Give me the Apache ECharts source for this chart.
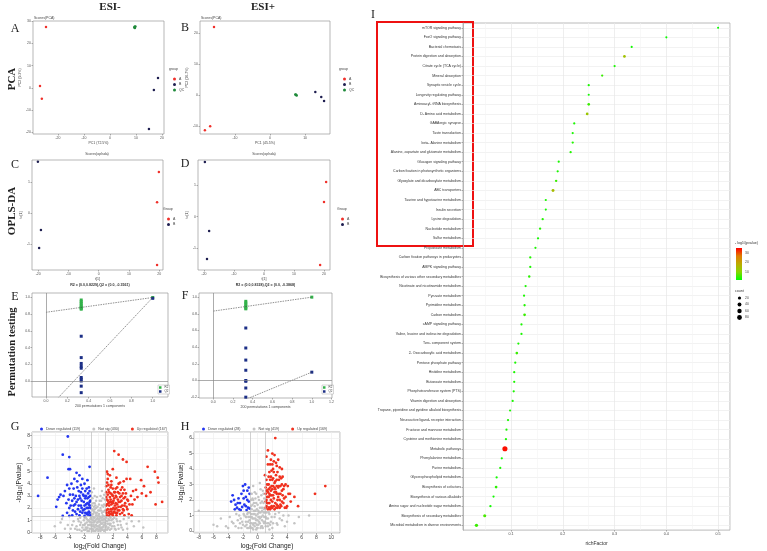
<!DOCTYPE html>
<html><head><meta charset="utf-8">
<script src="https://cdn.jsdelivr.net/npm/echarts@6/dist/echarts.min.js"></script>
<style>html,body{margin:0;padding:0;background:#fff}#c{width:767px;height:551px}</style>
</head><body><div id="c"></div>
<script>
// ================= DATA =================
// A: ESI- PCA scores
const pcaNegGroupA = [[-24.6,27.4],[-26.9,0.9],[-26.2,-4.9]];
const pcaNegGroupB = [[18.5,4.5],[16.9,-0.9],[15.0,-18.4]];
const pcaNegQC = [[9.6,27.4],[9.4,27.2],[9.8,27.6],[9.6,27.0],[9.5,27.5]];
// B: ESI+ PCA scores
const pcaPosGroupA = [[-16.0,21.9],[-18.6,-11.3],[-17.1,-10.0]];
const pcaPosGroupB = [[12.9,1.0],[14.6,-0.6],[15.4,-1.9]];
const pcaPosQC = [[7.4,0.0],[7.2,0.2],[7.6,-0.1],[7.4,0.1]];
// C / D: OPLS-DA scores
const oplsNegA = [[19.9,1.32],[19.3,0.35],[19.3,-1.68]];
const oplsNegB = [[-20.1,1.65],[-19.1,-0.55],[-19.7,-1.13]];
const oplsPosA = [[20.7,1.1],[20.0,0.47],[18.7,-1.53]];
const oplsPosB = [[-19.7,1.74],[-18.3,-0.45],[-19.0,-1.34]];
// E / F: permutation tests
const permNegR2 = [[0.33,0.97],[0.33,0.95],[0.33,0.93],[0.33,0.91],[0.33,0.89],[0.33,0.88],[0.33,0.87],[0.33,0.86],[1.0,1.0]];
const permNegQ2 = [[0.33,0.536],[0.33,0.28],[0.33,0.21],[0.33,0.177],[0.33,0.153],[0.33,0.042],[0.33,0.022],[0.33,0.0],[0.33,-0.062],[0.33,-0.14],[1.0,0.99]];
const permNegLines = {r2:[0.8229,1.0], q2:[-0.3561,1.0]};
const permPosR2 = [[0.33,0.95],[0.33,0.93],[0.33,0.91],[0.33,0.89],[0.33,0.87],[0.33,0.86],[1.0,1.0]];
const permPosQ2 = [[0.33,0.63],[0.33,0.39],[0.33,0.245],[0.33,0.123],[0.33,0.0],[0.33,-0.01],[0.33,-0.09],[0.33,-0.2],[1.0,0.10]];
const permPosLines = {r2:[0.8328,1.0], q2:[-0.3868,0.10]};
// G: ESI- volcano
const volNegDown = [[-8.3,3.0],[-7.0,4.5],[-5.8,2.1],[-5.4,2.9],[-5.2,3.1],[-4.9,6.4],[-4.2,7.9],[-4.0,6.2],[-4.1,5.2],[-3.9,5.2],[-4.6,3.4],[-4.3,3.9],[-4.0,3.6],[-3.7,4.0],[-3.5,3.1],[-3.3,4.4],[-3.0,4.9],[-2.9,4.2],[-2.6,4.7],[-2.4,3.9],[-2.2,4.4],[-1.9,4.0],[-1.5,4.3],[-1.2,5.4],[-1.3,3.7],[-4.9,1.35],[-4.0,1.35],[-3.6,1.4],[-4.4,2.4],[-4.0,2.0],[-3.6,2.6],[-3.4,2.2],[-3.1,3.0],[-3.0,2.5],[-2.8,1.9],[-2.7,3.4],[-2.5,2.8],[-2.4,2.2],[-2.2,1.6],[-2.1,3.1],[-2.0,2.5],[-1.9,1.9],[-1.8,3.4],[-1.7,2.3],[-1.6,1.5],[-1.5,2.8],[-1.4,2.0],[-1.3,1.7],[-1.2,2.5],[-1.1,3.0],[-1.1,1.4],[-1.6,3.6],[-2.6,1.4],[-3.2,1.7],[-1.9,1.35],[-1.4,1.45],[-2.3,2.0],[-1.2,2.2],
  [-4.3,1.6],[-4.1,2.7],[-3.9,3.1],[-3.8,2.2],[-3.5,1.8],[-3.4,3.6],[-3.3,2.8],[-3.2,2.3],[-3.0,1.5],[-2.9,3.7],[-2.8,2.7],[-2.7,2.2],[-2.6,3.0],[-2.5,1.7],[-2.4,3.3],[-2.3,2.6],[-2.2,3.6],[-2.1,1.8],[-2.0,3.0],[-1.9,2.2],[-1.8,2.8],[-1.8,1.6],[-1.7,3.0],[-1.6,2.0],[-1.5,2.4],[-1.5,1.6],[-1.4,3.2],[-1.3,2.3],[-1.3,2.9],[-1.2,1.6],[-1.2,3.4],[-1.1,2.0],[-1.1,2.6],[-4.8,3.0],[-5.6,2.7]];
const volNegUp = [[2.2,6.7],[2.8,6.4],[3.4,6.0],[3.9,5.8],[6.8,5.4],[7.8,5.0],[8.2,4.5],[8.3,4.1],[8.8,2.5],[7.9,2.3],[7.2,3.3],[6.6,3.0],[6.3,3.8],[5.9,4.3],[5.2,3.5],[5.4,2.9],[4.4,4.4],[3.9,4.4],[4.7,2.3],[5.0,2.7],[6.0,3.2],[1.2,5.0],[1.6,4.7],[2.0,5.2],[1.3,4.4],[1.8,4.2],[2.5,4.5],[3.0,4.1],[3.3,3.7],[3.6,3.5],[1.1,3.8],[1.4,3.5],[1.7,3.2],[2.0,3.6],[2.3,3.3],[2.6,3.7],[2.9,3.2],[3.2,3.0],[3.5,2.8],[3.8,3.2],[4.1,2.6],[1.1,2.9],[1.3,2.6],[1.5,2.2],[1.6,2.9],[1.9,2.5],[2.1,2.0],[2.2,2.8],[2.4,2.4],[2.7,2.7],[2.8,2.1],[3.0,2.5],[3.3,2.2],[3.5,1.8],[3.7,2.4],[4.0,1.9],[1.1,1.8],[1.2,2.3],[1.4,1.6],[1.7,1.9],[1.9,1.5],[2.2,1.7],[2.5,1.4],[2.7,1.8],[3.0,1.5],[3.3,1.6],[3.6,1.4],[4.2,1.5],[1.2,1.4],[1.5,1.35],[2.0,1.4],[4.6,1.4],[2.4,3.0],[1.8,3.9],[3.1,3.5],
  [1.1,1.6],[1.1,2.2],[1.1,3.3],[1.2,2.7],[1.2,4.1],[1.3,1.9],[1.3,3.1],[1.4,2.4],[1.4,3.9],[1.5,1.7],[1.5,3.3],[1.6,2.5],[1.6,1.5],[1.7,2.7],[1.7,3.7],[1.8,1.7],[1.8,2.3],[1.9,3.1],[1.9,1.9],[2.0,2.4],[2.0,3.0],[2.1,1.6],[2.1,2.6],[2.2,3.3],[2.3,1.9],[2.3,2.2],[2.4,1.6],[2.4,3.6],[2.5,2.0],[2.5,2.9],[2.6,2.3],[2.6,1.6],[2.7,3.3],[2.8,2.5],[2.9,1.8],[3.0,2.9],[3.1,2.1],[3.2,2.6],[3.4,1.9],[3.4,3.2],[3.6,2.2],[3.7,2.9],[3.9,2.1],[4.0,2.7],[4.3,2.3],[4.5,3.0],[1.3,4.8],[2.8,4.0],[3.5,4.2],[4.8,3.4]];
const volNegNs = [[-6.0,0.5],[-5.2,0.8],[-4.2,0.6],[-3.8,0.3],[-3.4,0.9],[-3.0,0.5],[-2.8,1.1],[-2.6,0.2],[-2.4,0.8],[-2.2,0.4],[-2.0,1.0],[-1.9,0.6],[-1.8,0.2],[-1.7,1.2],[-1.6,0.8],[-1.5,0.4],[-1.4,1.0],[-1.3,0.1],[-1.2,0.6],[-1.1,1.1],[-1.0,0.3],[-0.9,2.2],[-0.9,1.5],[-0.8,0.8],[-0.8,2.8],[-0.7,0.2],[-0.7,1.8],[-0.6,1.2],[-0.6,0.5],[-0.5,2.4],[-0.5,0.9],[-0.4,0.1],[-0.4,1.6],[-0.3,0.6],[-0.3,2.0],[-0.2,1.1],[-0.2,0.3],[-0.1,0.8],[0.0,0.1],[0.0,1.4],[0.1,0.5],[0.1,2.3],[0.2,0.9],[0.2,1.8],[0.3,0.3],[0.3,1.2],[0.4,0.7],[0.4,2.6],[0.5,0.2],[0.5,1.6],[0.6,1.0],[0.6,0.4],[0.7,2.1],[0.7,1.3],[0.8,0.6],[0.8,3.1],[0.9,1.8],[0.9,0.2],[1.0,1.0],[1.1,0.5],[1.2,0.9],[1.3,0.3],[1.4,1.1],[1.5,0.7],[1.6,0.2],[1.8,1.0],[1.9,0.5],[2.1,0.8],[2.3,0.3],[2.5,1.1],[2.7,0.6],[3.0,0.9],[3.2,0.4],[3.5,1.1],[3.9,0.7],[4.2,1.2],[4.6,0.9],[4.9,0.5],[5.6,0.9],[6.2,0.4],[-0.9,3.3],[-0.6,3.6],[0.5,3.4],[-0.2,2.9],[0.3,3.0],[-2.5,0.6],[-1.6,0.3],[1.7,0.7],[2.2,1.2],[-1.2,0.9],
  [-2.9,0.2],[-2.7,0.9],[-2.5,1.2],[-2.3,0.1],[-2.1,0.6],[-2.0,0.2],[-1.9,1.2],[-1.8,0.7],[-1.7,0.4],[-1.6,1.1],[-1.5,0.1],[-1.4,0.6],[-1.3,0.9],[-1.2,0.3],[-1.1,0.8],[-1.0,1.2],[-1.0,0.6],[-0.9,0.1],[-0.9,0.5],[-0.9,1.1],[-0.8,0.3],[-0.8,1.3],[-0.8,1.9],[-0.7,0.6],[-0.7,1.0],[-0.7,1.5],[-0.7,2.4],[-0.6,0.1],[-0.6,0.8],[-0.6,1.7],[-0.6,2.1],[-0.5,0.4],[-0.5,1.2],[-0.5,1.9],[-0.5,3.0],[-0.4,0.6],[-0.4,1.0],[-0.4,2.2],[-0.3,0.2],[-0.3,1.4],[-0.3,2.6],[-0.2,0.5],[-0.2,0.8],[-0.2,1.6],[-0.1,0.3],[-0.1,1.2],[-0.1,2.1],[0.0,0.5],[0.0,0.9],[0.0,1.8],[0.1,0.2],[0.1,1.1],[0.1,1.5],[0.2,0.4],[0.2,0.6],[0.2,1.3],[0.2,2.6],[0.3,0.1],[0.3,0.8],[0.3,2.0],[0.4,0.4],[0.4,1.0],[0.4,1.8],[0.5,0.7],[0.5,1.2],[0.5,2.2],[0.6,0.2],[0.6,1.4],[0.6,2.8],[0.7,0.5],[0.7,0.8],[0.7,1.7],[0.8,0.1],[0.8,1.1],[0.8,2.3],[0.9,0.8],[0.9,1.3],[0.9,2.7],[1.0,0.4],[1.0,0.7],[1.1,1.2],[1.2,0.2],[1.3,0.7],[1.4,0.4],[1.5,1.0],[1.6,0.6],[1.7,1.2],[1.8,0.3],[2.0,1.1],[2.2,0.5],[2.4,0.2],[2.6,0.9],[2.8,0.3],[3.1,0.6],[3.4,0.2],[-3.2,0.3],[-3.6,0.6],[-4.6,0.3],[-5.0,1.1],[4.0,0.3]];
// H: ESI+ volcano
const volPosDown = [[-3.4,2.3],[-3.2,2.0],[-3.0,1.7],[-2.8,1.5],[-3.1,1.4],[-2.6,2.1],[-2.4,1.8],[-2.5,1.4],[-2.0,2.9],[-1.7,3.0],[-1.9,2.6],[-2.2,2.4],[-1.6,2.2],[-1.4,2.0],[-1.8,1.7],[-1.3,1.5],[-1.2,1.9],[-1.5,1.35],[-2.1,1.55],[-1.1,2.4],[-1.2,2.8],[-3.6,1.9],[-2.7,1.8],[-1.6,1.6],[-1.9,2.1],[-2.3,1.35],[-1.1,1.45],[-1.4,2.6]];
const volPosUp = [[1.1,1.5],[1.2,2.0],[1.3,2.6],[1.4,1.4],[1.5,3.0],[1.6,1.8],[1.7,2.3],[1.8,3.5],[1.9,1.6],[2.0,2.7],[2.1,4.0],[2.2,2.1],[2.3,1.4],[2.4,3.2],[2.5,2.5],[2.6,1.7],[2.7,3.8],[2.8,2.2],[2.9,2.9],[3.0,1.5],[3.1,2.4],[3.2,3.4],[3.3,1.9],[3.5,2.7],[3.6,2.1],[3.8,3.0],[4.0,1.6],[4.2,2.4],[1.2,3.3],[1.4,4.3],[1.6,3.8],[1.8,4.6],[2.0,5.0],[2.4,6.0],[2.2,4.5],[2.6,4.2],[3.0,4.1],[1.1,2.8],[1.3,1.8],[1.5,2.2],[1.7,1.4],[1.9,2.9],[2.1,3.4],[2.3,2.8],[2.5,3.6],[2.7,1.5],[2.9,3.3],[3.1,1.7],[3.4,2.3],[3.7,1.5],[4.5,1.9],[7.8,2.4],[9.2,2.9],[1.0,3.6],[1.2,4.8],[1.5,1.5],[2.0,1.9],[2.6,2.9],[3.3,3.0],[1.8,2.0],
  [1.1,1.9],[1.1,2.4],[1.2,1.6],[1.2,2.6],[1.3,2.2],[1.3,3.0],[1.4,1.8],[1.4,2.5],[1.5,2.7],[1.5,3.5],[1.6,1.5],[1.6,2.4],[1.7,2.8],[1.7,3.3],[1.8,1.5],[1.8,2.6],[1.9,2.3],[1.9,3.9],[2.0,1.5],[2.0,3.3],[2.1,2.3],[2.1,2.9],[2.2,1.6],[2.2,3.8],[2.3,2.5],[2.3,3.1],[2.4,1.8],[2.4,2.7],[2.5,1.5],[2.5,4.4],[2.6,2.4],[2.6,3.3],[2.7,2.0],[2.8,2.8],[2.8,1.6],[2.9,2.4],[3.0,3.5],[3.0,2.0],[3.1,2.9],[3.2,1.6],[3.3,2.6],[3.4,3.5],[3.5,1.8],[3.6,2.9],[3.8,2.2],[3.9,1.5],[4.1,2.9],[4.4,2.4],[1.4,5.2],[1.7,4.3],[2.0,4.3],[2.3,4.9],[2.8,4.6],[3.3,4.0],[5.0,2.2],[5.5,1.6]];
const volPosNs = [[-8.0,1.3],[-6.0,0.4],[-5.0,0.8],[-4.3,0.3],[-3.8,0.9],[-3.3,0.5],[-2.9,1.1],[-2.6,0.2],[-2.3,0.8],[-2.0,0.4],[-1.8,1.0],[-1.6,0.6],[-1.4,0.2],[-1.3,1.2],[-1.1,0.7],[-1.0,0.3],[-0.9,1.6],[-0.8,0.9],[-0.7,2.1],[-0.6,0.4],[-0.5,1.3],[-0.4,2.5],[-0.3,0.8],[-0.2,1.8],[-0.1,0.2],[0.0,1.1],[0.1,2.2],[0.2,0.6],[0.3,1.5],[0.4,2.7],[0.5,0.3],[0.6,1.9],[0.7,1.0],[0.8,2.4],[0.9,0.5],[1.0,1.2],[1.2,0.8],[1.4,0.3],[1.6,1.1],[1.8,0.6],[2.0,0.2],[2.3,0.9],[2.6,0.5],[2.9,1.2],[3.3,0.7],[3.7,0.3],[4.2,1.0],[5.0,0.5],[5.6,0.9],[7.0,1.0],[-0.6,2.9],[0.3,3.1],[-0.2,0.1],[0.1,0.9],[-1.5,0.9],[1.5,0.5],
  [-3.0,0.3],[-2.7,0.7],[-2.5,1.0],[-2.2,0.2],[-2.1,0.6],[-1.9,1.1],[-1.7,0.3],[-1.6,0.9],[-1.5,0.4],[-1.4,1.1],[-1.3,0.6],[-1.2,0.2],[-1.2,0.9],[-1.1,1.2],[-1.0,0.5],[-1.0,0.9],[-0.9,0.2],[-0.9,1.1],[-0.9,2.0],[-0.8,0.5],[-0.8,1.4],[-0.8,2.4],[-0.7,0.2],[-0.7,0.8],[-0.7,1.7],[-0.6,1.1],[-0.6,2.0],[-0.5,0.5],[-0.5,0.8],[-0.5,1.8],[-0.4,0.3],[-0.4,1.1],[-0.4,1.6],[-0.3,0.5],[-0.3,1.3],[-0.3,2.1],[-0.2,0.7],[-0.2,1.0],[-0.2,2.4],[-0.1,0.4],[-0.1,1.4],[0.0,0.2],[0.0,0.7],[0.0,1.7],[0.1,0.4],[0.1,1.3],[0.2,0.9],[0.2,1.2],[0.2,2.0],[0.3,0.5],[0.3,0.8],[0.4,0.2],[0.4,1.2],[0.4,1.8],[0.5,0.9],[0.5,1.5],[0.5,2.3],[0.6,0.3],[0.6,0.7],[0.6,1.3],[0.7,0.2],[0.7,1.5],[0.7,2.6],[0.8,0.6],[0.8,1.2],[0.8,1.8],[0.9,0.9],[0.9,1.4],[0.9,2.1],[1.0,0.6],[1.1,0.3],[1.1,0.9],[1.2,1.2],[1.3,0.5],[1.4,0.8],[1.5,1.2],[1.7,0.4],[1.9,0.9],[2.1,0.5],[2.4,1.1],[2.7,0.4],[3.0,0.8],[3.5,1.0],[4.0,0.6],[-3.5,0.6],[-4.0,0.2],[-5.5,0.3],[-2.4,0.5],[1.6,0.1],[-0.6,0.1]];
// I: KEGG enrichment
const pathways = ["mTOR signaling pathway","FoxO signaling pathway","Bacterial chemotaxis","Protein digestion and absorption","Citrate cycle (TCA cycle)","Mineral absorption","Synaptic vesicle cycle","Longevity regulating pathway","Aminoacyl- tRNA biosynthesis","D- Amino acid metabolism","GABAergic synapse","Taste transduction","beta- Alanine metabolism","Alanine, aspartate and glutamate metabolism","Glucagon signaling pathway","Carbon fixation in photosynthetic organisms","Glyoxylate and dicarboxylate metabolism","ABC transporters","Taurine and hypotaurine metabolism","Insulin secretion","Lysine degradation","Nucleotide metabolism","Sulfur metabolism","Propanoate metabolism","Carbon fixation pathways in prokaryotes","AMPK signaling pathway","Biosynthesis of various other secondary metabolites","Nicotinate and nicotinamide metabolism","Pyruvate metabolism","Pyrimidine metabolism","Carbon metabolism","cAMP signaling pathway","Valine, leucine and isoleucine degradation","Two- component system","2- Oxocarboxylic acid metabolism","Pentose phosphate pathway","Histidine metabolism","Butanoate metabolism","Phosphotransferase system (PTS)","Vitamin digestion and absorption","Tropane, piperidine and pyridine alkaloid biosynthesis","Neuroactive ligand- receptor interaction","Fructose and mannose metabolism","Cysteine and methionine metabolism","Metabolic pathways","Phenylalanine metabolism","Purine metabolism","Glycerophospholipid metabolism","Biosynthesis of cofactors","Biosynthesis of various alkaloids","Amino sugar and nucleotide sugar metabolism","Biosynthesis of secondary metabolites","Microbial metabolism in diverse environments"];
const richFactor = [0.5,0.4,0.333,0.319,0.3,0.276,0.25,0.25,0.25,0.247,0.222,0.219,0.219,0.215,0.192,0.19,0.187,0.181,0.167,0.167,0.161,0.156,0.152,0.147,0.137,0.137,0.135,0.128,0.125,0.126,0.126,0.12,0.12,0.114,0.111,0.108,0.106,0.106,0.105,0.103,0.098,0.094,0.091,0.09,0.088,0.082,0.079,0.072,0.071,0.066,0.06,0.049,0.033];
const negLog10P = [2,2,2.5,14,3,5,3,2.5,5,13,3,3,3.5,3.5,3,3,5,15,3,2.5,3.5,3.5,2.5,3,3.5,3,4,3,3,3.5,5,3,3,3,5,3,3,3,3,3,3,3,3,3,34,2.5,3,2.5,4,2.5,2.5,6,5];
const pathwayCount = [2,2,2,10,3,4,3,2,8,10,3,3,4,4,3,3,5,14,3,2,4,4,3,3,4,3,5,3,3,4,9,3,3,3,8,3,3,3,3,3,3,3,3,3,95,3,3,3,9,3,4,18,22];
const pvalueTicks = [10,20,30];
const countTicks = [20,40,60,80];

// ================= BUILD =================
const SANS = 'Liberation Sans, Arial, sans-serif';
const SERIF = 'Liberation Serif, Times New Roman, serif';
const opt = {animation:false, textStyle:{fontFamily:SANS}, grid:[], xAxis:[], yAxis:[], series:[], legend:[], graphic:[], visualMap:[]};

function addGrid(box, xa, ya){
  const i = opt.grid.length;
  opt.grid.push(Object.assign({show:true, borderColor:'#9a9a9a', borderWidth:0.7, backgroundColor:'#fff'}, box));
  opt.xAxis.push(Object.assign({gridIndex:i}, xa));
  opt.yAxis.push(Object.assign({gridIndex:i}, ya));
  return i;
}
function vAxis(min, max, split, extra){
  return Object.assign({type:'value', min:min, max:max, splitNumber:split,
    axisLine:{show:false, onZero:false}, axisTick:{show:true, length:1.5, lineStyle:{color:'#666', width:0.5}},
    axisLabel:{fontSize:3.5, color:'#555', margin:2, showMinLabel:false, showMaxLabel:false},
    splitLine:{show:false}, nameTextStyle:{fontSize:3.5, color:'#444'}}, extra||{});
}
function scat(gi, name, data, color, size, extra){
  opt.series.push(Object.assign({type:'scatter', name:name, xAxisIndex:gi, yAxisIndex:gi, data:data,
    symbolSize:size, itemStyle:{color:color, opacity:1}, silent:true}, extra||{}));
}
function txt(x, y, text, style, rot){
  const el = {type:'text', x:x, y:y, silent:true, style:Object.assign({text:text, fill:'#222', fontSize:4, fontFamily:SANS, align:'left', verticalAlign:'middle'}, style)};
  if (rot) el.rotation = rot;
  opt.graphic.push(el);
}
const RED='#f0302a', NAVY='#1e1e50', QCG='#1f8a3a';

// ---------- headers ----------
txt(110, 7, 'ESI-', {fontSize:11, fontWeight:'bold', fontFamily:SERIF, align:'center'});
txt(263, 7, 'ESI+', {fontSize:11, fontWeight:'bold', fontFamily:SERIF, align:'center'});
txt(12, 79, 'PCA', {fontSize:11, fontWeight:'bold', fontFamily:SERIF, align:'center'}, Math.PI/2);
txt(12, 211, 'OPLS-DA', {fontSize:11, fontWeight:'bold', fontFamily:SERIF, align:'center'}, Math.PI/2);
txt(12, 352, 'Permutation testing', {fontSize:10.5, fontWeight:'bold', fontFamily:SERIF, align:'center'}, Math.PI/2);
[['A',15,29],['B',185,28],['C',15,165],['D',185,164],['E',15,297],['F',185,296],['G',15,427],['H',185,427],['I',373,15]].forEach(l=>{
  txt(l[1], l[2], l[0], {fontSize:12, fontFamily:SERIF, align:'center'});
});

// ---------- A ----------
let g = addGrid({left:33, top:21, width:131, height:113},
  vAxis(-29.6, 20.8, 5, {name:'PC1 (72.5%)', nameLocation:'middle', nameGap:7}),
  vAxis(-20.7, 30.1, 5, {name:'PC2 (9.3%)', nameLocation:'middle', nameGap:8}));
scat(g,'A',pcaNegGroupA,RED,2.5); scat(g,'B',pcaNegGroupB,NAVY,2.5); scat(g,'QC',pcaNegQC,QCG,2.5);
txt(34, 18, 'Scores(PCA)', {fontSize:3.5, fill:'#444'});
// ---------- B ----------
g = addGrid({left:200, top:21, width:130, height:113},
  vAxis(-20, 17.1, 4, {name:'PC1 (45.5%)', nameLocation:'middle', nameGap:7}),
  vAxis(-12.5, 23.8, 4, {name:'PC2 (26.7%)', nameLocation:'middle', nameGap:8}));
scat(g,'A',pcaPosGroupA,RED,2.5); scat(g,'B',pcaPosGroupB,NAVY,2.5); scat(g,'QC',pcaPosQC,QCG,2.5);
txt(201, 18, 'Scores(PCA)', {fontSize:3.5, fill:'#444'});
[[169,'group'],[339,'group']].forEach(p=>txt(p[0], 69, p[1], {fontSize:3.5, fill:'#444'}));
[168,338].forEach(x=>opt.legend.push({left:x, top:72, orient:'vertical', itemWidth:3, itemHeight:3, itemGap:1.5, icon:'circle', data:['A','B','QC'], textStyle:{fontSize:3.5, color:'#444', padding:[0,0,0,-2]}, selectedMode:false}));

// ---------- C ----------
g = addGrid({left:32, top:160, width:131, height:110},
  vAxis(-22.05, 21.26, 4, {name:'t[1]', nameLocation:'middle', nameGap:7}),
  vAxis(-1.84, 1.71, 3, {name:'to[1]', nameLocation:'middle', nameGap:8}));
scat(g,'A',oplsNegA,RED,2.5); scat(g,'B',oplsNegB,NAVY,2.5);
txt(97, 154, 'Scores(oplsda)', {fontSize:3.5, fill:'#444', align:'center'});
// ---------- D ----------
g = addGrid({left:198, top:160, width:132, height:110},
  vAxis(-22, 22, 4, {name:'t[1]', nameLocation:'middle', nameGap:7}),
  vAxis(-1.69, 1.8, 3, {name:'to[1]', nameLocation:'middle', nameGap:8}));
scat(g,'A',oplsPosA,RED,2.5); scat(g,'B',oplsPosB,NAVY,2.5);
txt(264, 154, 'Scores(oplsda)', {fontSize:3.5, fill:'#444', align:'center'});
[[163,'Group'],[337,'Group']].forEach(p=>txt(p[0], 209, p[1], {fontSize:3.5, fill:'#444'}));
[162,336].forEach(x=>opt.legend.push({left:x, top:212, orient:'vertical', itemWidth:3, itemHeight:3, itemGap:1.5, icon:'circle', data:['A','B'], textStyle:{fontSize:3.5, color:'#444', padding:[0,0,0,-2]}, selectedMode:false}));

// ---------- E / F ----------
function perm(box, xr, yr, r2, q2, lines, title){
  const lab = {fontSize:3.5,color:'#555',margin:2,showMinLabel:false,showMaxLabel:false,formatter:v=>v.toFixed(1)};
  const gi = addGrid(box,
    vAxis(xr[0], xr[1], 6, {name:'200 permutations 1 components', nameLocation:'middle', nameGap:7, axisLabel:lab}),
    vAxis(yr[0], yr[1], 6, {axisLabel:lab}));
  opt.series.push({type:'line', xAxisIndex:gi, yAxisIndex:gi, data:[[0,lines.r2[0]],[1,lines.r2[1]]], symbol:'none', silent:true, lineStyle:{color:'#444', width:0.6, type:[1.5,1]},
    markLine:{silent:true, symbol:'none', label:{show:false}, lineStyle:{color:'#888', width:0.7, type:'solid'}, data:[{xAxis:0},{yAxis:0}]}});
  opt.series.push({type:'line', xAxisIndex:gi, yAxisIndex:gi, data:[[0,lines.q2[0]],[1,lines.q2[1]]], symbol:'none', silent:true, lineStyle:{color:'#444', width:0.6, type:[1.5,1]}});
  scat(gi,'R2',r2,'#33b24a',3,{symbol:'rect'});
  scat(gi,'Q2',q2,'#1c2f86',3,{symbol:'rect'});
  txt(box.left+box.width/2, box.top-8, title, {fontSize:3.6, fill:'#333', fontWeight:'bold', align:'center'});
}
perm({left:32, top:293, width:136, height:104}, [-0.131,1.143], [-0.192,1.054], permNegR2, permNegQ2, permNegLines, 'R2 = (0.0,0.8229),Q2 = (0.0, -0.3561)');
perm({left:199, top:293, width:133, height:105}, [-0.145,1.205], [-0.21,1.05], permPosR2, permPosQ2, permPosLines, 'R2 = (0.0,0.8328),Q2 = (0.0, -0.3868)');
[[158,385],[322,385]].forEach(p=>opt.legend.push({left:p[0], top:p[1], orient:'vertical', itemWidth:2.5, itemHeight:2.5, itemGap:1, icon:'rect', data:['R2','Q2'], backgroundColor:'#fff', borderColor:'#999', borderWidth:0.4, padding:1, textStyle:{fontSize:3, color:'#444', padding:[0,0,0,-2]}, selectedMode:false}));

// ---------- G / H ----------
function volcano(box, xr, yr, xsplit, ysplit, down, ns, up, names){
  const labelStyle = {fontSize:5, color:'#444', margin:2, showMinLabel:false, showMaxLabel:false};
  const nameStyle = {fontSize:6.5, color:'#222', rich:{s:{fontSize:4.5, verticalAlign:'bottom', padding:[3,0,0,0]}}};
  const gi = addGrid(box,
    {type:'value', min:xr[0], max:xr[1], splitNumber:xsplit, axisLine:{show:false, onZero:false}, axisTick:{show:true,length:2,lineStyle:{color:'#666',width:0.5}}, axisLabel:labelStyle,
     splitLine:{show:true, lineStyle:{color:'#ececec', width:0.6}},
     name:'log{s|2}(Fold Change)', nameLocation:'middle', nameGap:9, nameTextStyle:nameStyle},
    {type:'value', min:yr[0], max:yr[1], splitNumber:ysplit, axisLine:{show:false, onZero:false}, axisTick:{show:true,length:2,lineStyle:{color:'#666',width:0.5}}, axisLabel:labelStyle,
     splitLine:{show:true, lineStyle:{color:'#ececec', width:0.6}},
     name:'-log{s|10}(Pvalue)', nameLocation:'middle', nameGap:6, nameTextStyle:nameStyle});
  scat(gi, names[1], ns, '#c4c4c4', 2.5, {markLine:{silent:true, symbol:'none', label:{show:false}, lineStyle:{color:'#bdbdbd', width:0.7, type:'solid'}, data:[{xAxis:-1},{xAxis:1},{yAxis:1.3}]}});
  scat(gi, names[0], down, '#2436f0', 2.8);
  scat(gi, names[2], up, '#f0301e', 2.8);
  opt.legend.push({left:box.left+3, top:box.top-10, itemWidth:3, itemHeight:3, itemGap:12, icon:'circle', data:names, textStyle:{fontSize:3.6, color:'#444', padding:[0,0,0,-2]}, selectedMode:false});
}
volcano({left:32, top:432, width:136, height:101}, [-9.14,9.61], [-0.06,8.27], 10, 8, volNegDown, volNegNs, volNegUp, ['Down regulated (119)','Not sig (430)','Up regulated (167)']);
volcano({left:194, top:432, width:146, height:101}, [-8.65,11.2], [-0.13,6.39], 10, 6, volPosDown, volPosNs, volPosUp, ['Down regulated (28)','Not sig (419)','Up regulated (169)']);

// ---------- I ----------
const gI = addGrid({left:463, top:23, width:267, height:514, borderColor:'#a8a8a8', borderWidth:0.8},
  {type:'value', min:0.007, max:0.523, splitNumber:5, axisLine:{show:false, onZero:false},
   axisTick:{show:true, length:1.5, lineStyle:{color:'#666', width:0.5}},
   axisLabel:{fontSize:3.6, color:'#444', margin:2, showMinLabel:false, showMaxLabel:false, formatter:v=>String(+v.toFixed(1))},
   splitLine:{show:true, lineStyle:{color:'#e6e6e6', width:0.7}},
   minorTick:{show:false, splitNumber:2}, minorSplitLine:{show:true, lineStyle:{color:'#f3f3f3', width:0.6}},
   name:'richFactor', nameLocation:'middle', nameGap:7, nameTextStyle:{fontSize:5, color:'#333'}},
  {type:'category', data:pathways, inverse:true, boundaryGap:true,
   axisLine:{show:true, onZero:false, lineStyle:{color:'#a8a8a8', width:0.8}},
   axisTick:{show:true, alignWithLabel:true, length:1.5, lineStyle:{color:'#666', width:0.5}},
   axisLabel:{fontSize:3.5, color:'#333', margin:2, interval:0},
   splitLine:{show:true, alignWithLabel:true, interval:0, lineStyle:{color:'#ececec', width:0.7}}});
const sI = opt.series.length;
opt.series.push({type:'scatter', xAxisIndex:gI, yAxisIndex:gI, silent:true,
  data:pathways.map((p,i)=>[richFactor[i], p, negLog10P[i], pathwayCount[i]]),
  encode:{x:0, y:1}, symbolSize:d=>1.6+0.36*Math.sqrt(d[3]), itemStyle:{opacity:1}});
const pvMin = 1.4, pvMax = 35;
const gradStops = ['#00ff00','#86d600','#bcab00','#e07c00','#ff0000'];
opt.visualMap.push({show:false, seriesIndex:sI, dimension:2, min:pvMin, max:pvMax, inRange:{color:gradStops}});
// red highlight box
opt.graphic.push({type:'rect', silent:true, shape:{x:377, y:22, width:96, height:224}, style:{fill:'none', stroke:'#ee1111', lineWidth:2}});
// colour legend
txt(735, 243, '- log{s|10}(pvalue)', {fontSize:3.6, fill:'#333', rich:{s:{fontSize:2.6, verticalAlign:'bottom'}}});
const cbTop = 248, cbH = 32;
opt.graphic.push({type:'rect', silent:true, shape:{x:736, y:cbTop, width:6, height:cbH},
  style:{fill:new echarts.graphic.LinearGradient(0,1,0,0, gradStops.map((c,i)=>({offset:i/(gradStops.length-1), color:c})))}});
pvalueTicks.forEach(v=>{
  const y = cbTop + cbH*(pvMax - v)/(pvMax - pvMin);
  txt(745, y, String(v), {fontSize:3.4, fill:'#444'});
});
txt(735, 291, 'count', {fontSize:3.6, fill:'#333'});
countTicks.forEach((v,i)=>{
  const y = 298 + i*6.5, r = (1.6+0.36*Math.sqrt(v))/2;
  opt.graphic.push({type:'circle', silent:true, shape:{cx:739.5, cy:y, r:r}, style:{fill:'#000'}});
  txt(745, y, String(v), {fontSize:3.4, fill:'#444'});
});

const chart = echarts.init(document.getElementById('c'), null, {renderer:'canvas'});
chart.setOption(opt);
</script>
</body></html>
